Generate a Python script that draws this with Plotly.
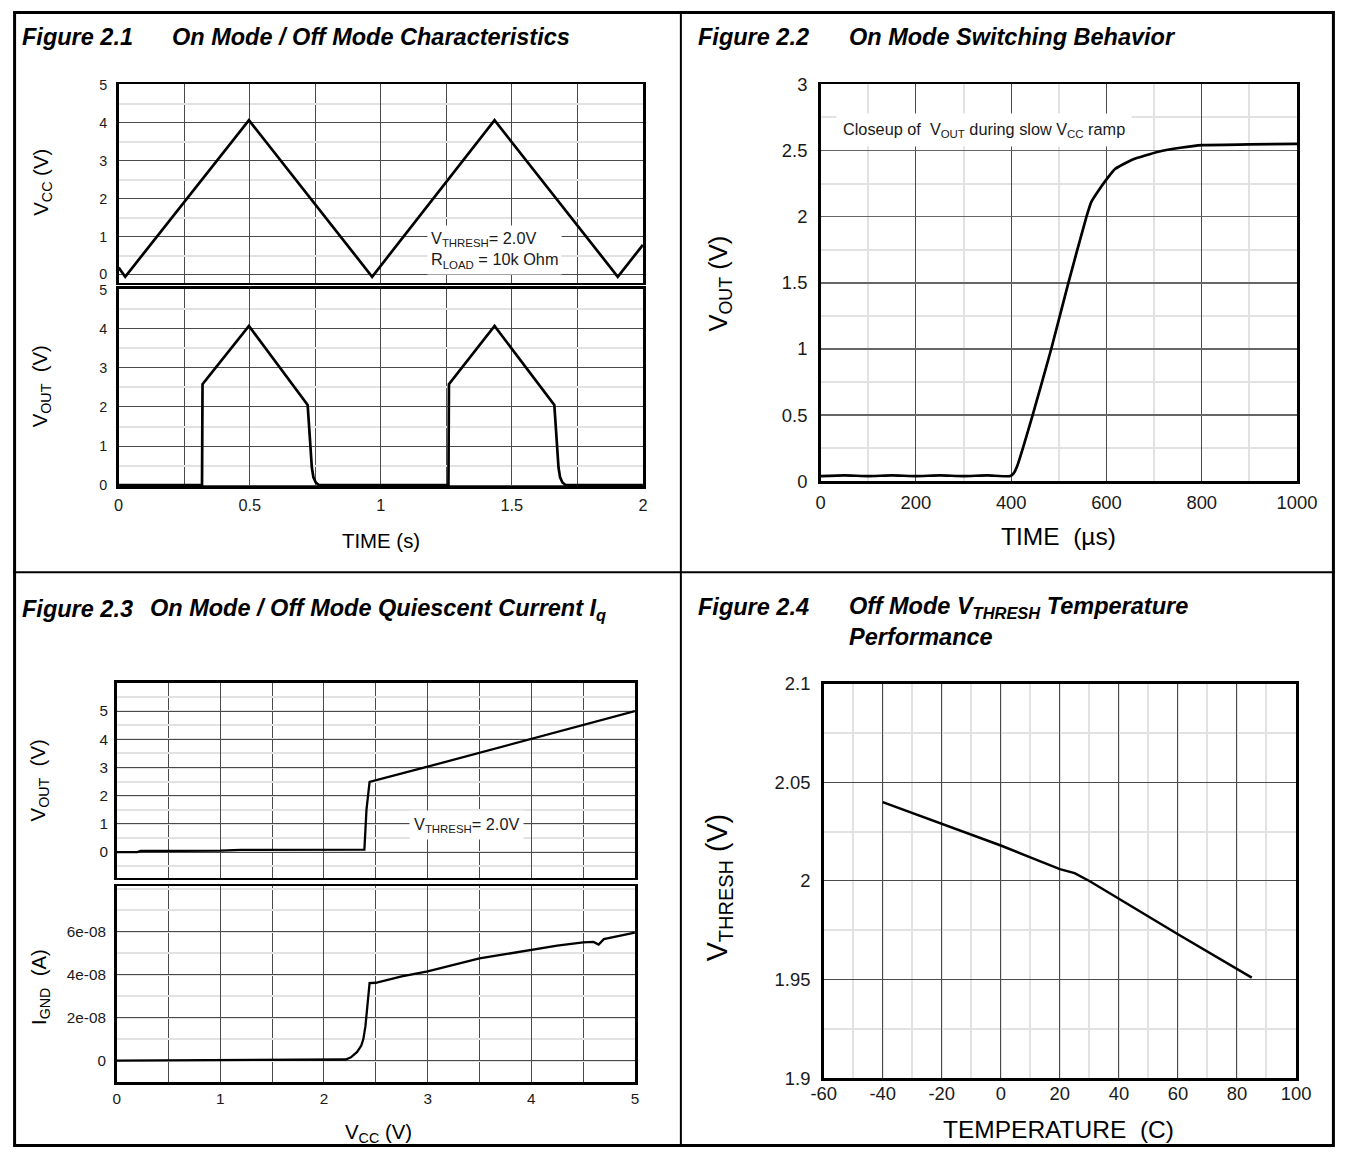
import plotly.graph_objects as go

W, H = 1355, 1157
# Measured relation between figure pixels and the returned picture
SX, OX = 0.977, 11.2
SY, OY = 0.984, 8.6
FS = 1 / 0.98  # font compensation

# ---------------- data ----------------
# Figure 2.1  (top: VCC triangle, bottom: VOUT)
t_vcc = [0, 0.025, 0.497, 0.967, 1.434, 1.904, 2.0]
vcc = [0.18, -0.06, 4.07, -0.06, 4.07, -0.06, 0.78]

t_vout = [0, 0.318, 0.320, 0.497, 0.721, 0.724, 0.728, 0.732, 0.737, 0.743, 0.752, 0.765,
          1.258, 1.260, 1.434, 1.662, 1.665, 1.669, 1.673, 1.678, 1.684, 1.693, 1.706, 2.0]
vout = [0, 0, 2.58, 4.07, 2.05, 1.7, 1.2, 0.8, 0.45, 0.2, 0.07, 0,
        0, 2.58, 4.07, 2.05, 1.7, 1.2, 0.8, 0.45, 0.2, 0.07, 0, 0]

# Figure 2.2  (VOUT closeup vs time in µs)
t_us = [0, 50, 100, 150, 200, 250, 300, 350, 398, 405, 413, 445, 484, 520, 558, 568, 582,
        604, 618, 654, 709, 755, 801, 900, 1000]
vout_us = [0.04, 0.045, 0.04, 0.045, 0.04, 0.045, 0.04, 0.045, 0.04, 0.06, 0.12, 0.5, 1.0,
           1.5, 2.0, 2.11, 2.19, 2.30, 2.36, 2.43, 2.49, 2.52, 2.54, 2.545, 2.55]

# Figure 2.3  (VOUT and IGND vs VCC)
vcc_a = [0, 0.2, 0.23, 1.0, 1.2, 2.0, 2.39, 2.41, 2.44, 3.0, 3.5, 4.0, 4.5, 5.0]
vout_a = [0, 0, 0.04, 0.05, 0.08, 0.08, 0.09, 1.5, 2.49, 3.03, 3.52, 4.01, 4.5, 5.0]

vcc_b = [0, 1.0, 2.0, 2.21, 2.26, 2.32, 2.36, 2.38, 2.40, 2.42, 2.44, 2.5, 2.75, 3.0, 3.25,
         3.5, 3.75, 4.0, 4.25, 4.5, 4.6, 4.65, 4.7, 5.0]
ignd = [0, 0.03e-8, 0.05e-8, 0.05e-8, 0.15e-8, 0.4e-8, 0.7e-8, 1.0e-8, 1.6e-8, 2.7e-8, 3.6e-8,
        3.62e-8, 3.92e-8, 4.15e-8, 4.45e-8, 4.75e-8, 4.95e-8, 5.15e-8, 5.35e-8, 5.5e-8,
        5.52e-8, 5.4e-8, 5.65e-8, 5.95e-8]
ignd_tickvals = [0, 2e-8, 4e-8, 6e-8]
ignd_ticktext = ["0", "2e-08", "4e-08", "6e-08"]

# Figure 2.4  (VTHRESH vs temperature)
temp = [-40, -20, 0, 10, 20, 25, 30, 40, 60, 85]
vth = [2.040, 2.029, 2.018, 2.012, 2.006, 2.004, 2.000, 1.991, 1.973, 1.951]
temp_tickvals = [-60, -40, -20, 0, 20, 40, 60, 80, 100]
temp_ticktext = ["-60", "-40", "-20", "0", "20", "40", "60", "80", "100"]

# ---------------- helpers (reference pixel -> paper fraction) ----------------
def fx(x):
    return ((x - OX) / SX) / W

def fy(y):
    return 1 - ((y - OY) / SY) / H

def fs(size):
    return round(size * FS, 1)

DARK = "#4a4a4a"
LIGHT = "#e2e2e2"
FONT = "Liberation Sans, Arial, sans-serif"
TXT = "#1a1a1a"


def axis(dom, rng, size, major_color=DARK, minor=None, **kw):
    d = dict(domain=dom, range=rng, showline=True, mirror=True, linecolor="black",
             linewidth=2.6, showgrid=True, gridcolor=major_color, gridwidth=1,
             zeroline=False, ticks="outside", ticklen=7, tickcolor="rgba(0,0,0,0)",
             tickfont=dict(family=FONT, size=fs(size), color=TXT), fixedrange=True)
    if minor:
        d["minor"] = minor
    d.update(kw)
    return d


fig = go.Figure()
line = dict(color="black", width=2.7)
fig.add_trace(go.Scatter(x=t_vcc, y=vcc, mode="lines", line=line, xaxis="x", yaxis="y"))
fig.add_trace(go.Scatter(x=t_vout, y=vout, mode="lines", line=line, xaxis="x2", yaxis="y2"))
fig.add_trace(go.Scatter(x=t_us, y=vout_us, mode="lines",
                         line=dict(color="black", width=2.7, shape="spline", smoothing=0.5),
                         xaxis="x3", yaxis="y3"))
fig.add_trace(go.Scatter(x=vcc_a, y=vout_a, mode="lines", line=dict(color="black", width=2.3),
                         xaxis="x4", yaxis="y4"))
fig.add_trace(go.Scatter(x=vcc_b, y=ignd, mode="lines", line=dict(color="black", width=2.3),
                         xaxis="x5", yaxis="y5"))
fig.add_trace(go.Scatter(x=temp, y=vth, mode="lines", line=dict(color="black", width=2.5),
                         xaxis="x6", yaxis="y6"))

x21 = [fx(117), fx(642)]
fig.update_layout(
    # Figure 2.1
    xaxis=axis(x21, [0, 2], 16, anchor="y", dtick=0.5, showticklabels=False,
               minor=dict(dtick=0.25, tick0=0, showgrid=True, gridcolor=DARK, gridwidth=1)),
    yaxis=axis([fy(281), fy(82)], [-0.22, 5.02], 14, anchor="x", dtick=1, ticklen=6,
               minor=dict(dtick=0.5, tick0=0, showgrid=True, gridcolor=LIGHT, gridwidth=2)),
    xaxis2=axis(x21, [0, 2], 16, anchor="y2", dtick=0.5, ticklen=2,
                minor=dict(dtick=0.25, tick0=0, showgrid=True, gridcolor=DARK, gridwidth=1)),
    yaxis2=axis([fy(485), fy(287)], [-0.03, 5.02], 14, anchor="x2", dtick=1, ticklen=6,
                minor=dict(dtick=0.5, tick0=0, showgrid=True, gridcolor=LIGHT, gridwidth=2)),
    # Figure 2.2
    xaxis3=axis([fx(820), fx(1297)], [0, 1000], 18, anchor="y3", dtick=200, ticklen=3,
                minor=dict(dtick=100, tick0=0, showgrid=True, gridcolor=LIGHT, gridwidth=2)),
    yaxis3=axis([fy(480), fy(82)], [0, 3], 18, major_color="#666", anchor="x3", dtick=0.5,
                gridwidth=1.5,
                minor=dict(dtick=0.25, tick0=0, showgrid=True, gridcolor=LIGHT, gridwidth=2)),
    # Figure 2.3
    xaxis4=axis([fx(115), fx(634)], [0, 5], 15, anchor="y4", dtick=1, showticklabels=False,
                minor=dict(dtick=0.5, tick0=0, showgrid=True, gridcolor=DARK, gridwidth=1)),
    yaxis4=axis([fy(877), fy(682)], [-0.9, 6.0], 15, anchor="x4", ticklen=3,
                tickvals=[0, 1, 2, 3, 4, 5],
                minor=dict(tickmode="linear", dtick=0.5, tick0=0, showgrid=True,
                           gridcolor=LIGHT, gridwidth=2)),
    xaxis5=axis([fx(115), fx(634)], [0, 5], 15, anchor="y5", dtick=1, ticklen=1,
                minor=dict(dtick=0.5, tick0=0, showgrid=True, gridcolor=DARK, gridwidth=1)),
    yaxis5=axis([fy(1082), fy(886)], [-1e-8, 8.1e-8], 15, anchor="x5", ticklen=5,
                tickmode="array", tickvals=ignd_tickvals, ticktext=ignd_ticktext,
                minor=dict(tickmode="linear", dtick=1e-8, tick0=0, showgrid=True,
                           gridcolor=LIGHT, gridwidth=2)),
    # Figure 2.4
    xaxis6=axis([fx(823), fx(1296)], [-60, 100], 18, anchor="y6", ticks="",
                ticklabelstandoff=-3,
                tickmode="array", tickvals=temp_tickvals, ticktext=temp_ticktext,
                minor=dict(tickmode="linear", dtick=10, tick0=0, showgrid=True,
                           gridcolor=LIGHT, gridwidth=2)),
    yaxis6=axis([fy(1078), fy(683)], [1.9, 2.1], 18, anchor="x6", dtick=0.05,
                minor=dict(dtick=0.025, tick0=1.9, showgrid=True, gridcolor=LIGHT, gridwidth=2)),
)

ann = []


def paper_text(x, y, text, size, angle=0, xanchor="center", bold_italic=False):
    if bold_italic:
        text = "<b><i>" + text + "</i></b>"
    ann.append(dict(x=fx(x), y=fy(y), xref="paper", yref="paper", text=text, showarrow=False,
                    textangle=angle, xanchor=xanchor, yanchor="middle",
                    font=dict(family=FONT, size=fs(size), color="black")))


# titles
TS = 23
paper_text(18, 35, "Figure 2.1", TS, xanchor="left", bold_italic=True)
paper_text(168, 35, "On Mode / Off Mode Characteristics", TS, xanchor="left", bold_italic=True)
paper_text(695, 35, "Figure 2.2", TS, xanchor="left", bold_italic=True)
paper_text(846, 35, "On Mode Switching Behavior", TS, xanchor="left", bold_italic=True)
paper_text(18, 608, "Figure 2.3", TS, xanchor="left", bold_italic=True)
paper_text(146, 608, "On Mode / Off Mode Quiescent Current I<sub>q</sub>", TS, xanchor="left",
           bold_italic=True)
paper_text(695, 606, "Figure 2.4", TS, xanchor="left", bold_italic=True)
paper_text(846, 606, "Off Mode V<sub>THRESH</sub> Temperature", TS, xanchor="left",
           bold_italic=True)
paper_text(846, 636, "Performance", TS, xanchor="left", bold_italic=True)

# axis titles
paper_text(40, 180, "V<sub>CC</sub> (V)", 20, angle=-90)
paper_text(40, 385, "V<sub>OUT</sub>  (V)", 20, angle=-90)
paper_text(380, 540, "TIME (s)", 20)
paper_text(719, 282, "V<sub>OUT</sub> (V)", 25, angle=-90)
paper_text(1058, 535, "TIME  (µs)", 24)
paper_text(38, 780, "V<sub>OUT</sub>  (V)", 20, angle=-90)
paper_text(38, 987, "I<sub>GND</sub>  (A)", 20, angle=-90)
paper_text(377, 1134, "V<sub>CC</sub> (V)", 20)
paper_text(719, 887, "V<sub>THRESH</sub> (V)", 28, angle=-90)
paper_text(1058, 1130, "TEMPERATURE  (C)", 24)

# in-plot notes
ann.append(dict(x=fx(426), y=fy(248), xref="paper", yref="paper", xanchor="left",
                yanchor="middle", align="left", showarrow=False, bgcolor="white", borderpad=3,
                text="V<sub>THRESH</sub>= 2.0V<br>R<sub>LOAD</sub> = 10k Ohm",
                font=dict(family=FONT, size=fs(16), color=TXT)))
ann.append(dict(x=fx(984), y=fy(128), xref="paper", yref="paper", xanchor="center",
                yanchor="middle", showarrow=False, bgcolor="white", borderpad=6,
                text="Closeup of  V<sub>OUT</sub> during slow V<sub>CC</sub> ramp",
                font=dict(family=FONT, size=fs(16), color=TXT)))
ann.append(dict(x=fx(465), y=fy(824), xref="paper", yref="paper", xanchor="center",
                yanchor="middle", showarrow=False, bgcolor="white", borderpad=4,
                text="V<sub>THRESH</sub>= 2.0V",
                font=dict(family=FONT, size=fs(16), color=TXT)))

shapes = [
    dict(type="rect", xref="paper", yref="paper", x0=0.0012, x1=0.9988, y0=0.0013, y1=0.9987,
         line=dict(color="black", width=3)),
    dict(type="line", xref="paper", yref="paper", x0=fx(680), x1=fx(680), y0=0, y1=1,
         line=dict(color="black", width=2)),
    dict(type="line", xref="paper", yref="paper", x0=0, x1=1, y0=fy(571), y1=fy(571),
         line=dict(color="black", width=2)),
]

fig.update_layout(width=W, height=H, autosize=False, margin=dict(l=0, r=0, t=0, b=0),
                  paper_bgcolor="white", plot_bgcolor="white", showlegend=False,
                  annotations=ann, shapes=shapes)

fig.write_html(
    "out.html",
    config={"displayModeBar": False, "staticPlot": True},
    post_script=("document.documentElement.style.margin='0';"
                 "document.documentElement.style.padding='0';"
                 "document.documentElement.style.overflow='hidden';"
                 "document.body.style.margin='0';"
                 "document.body.style.padding='0';"
                 "document.body.style.overflow='hidden';"),
)
